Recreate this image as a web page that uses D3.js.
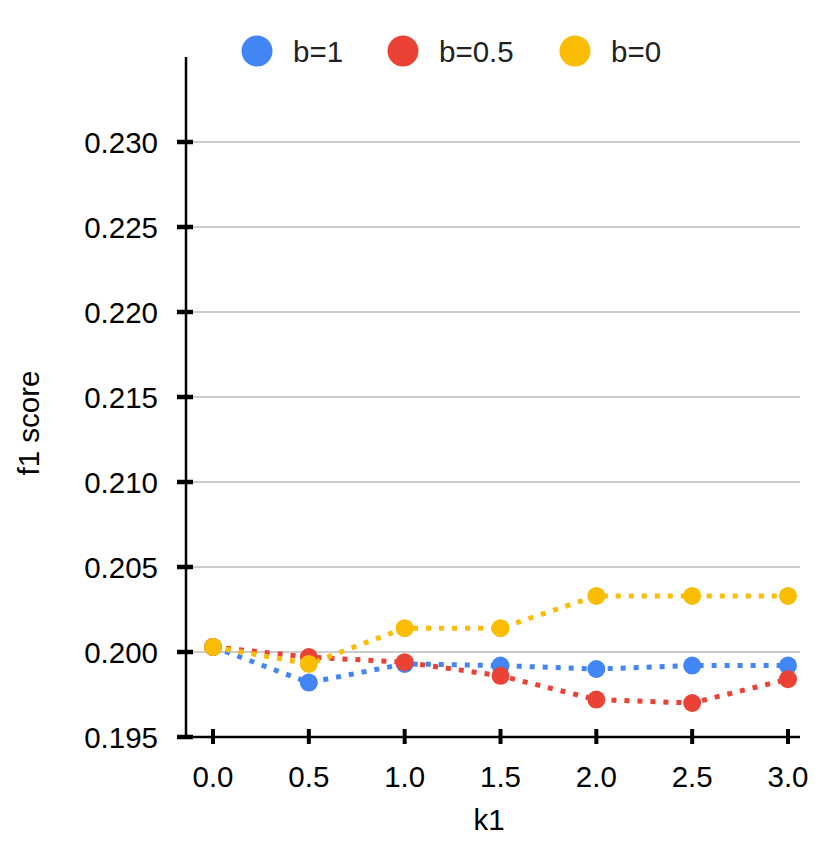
<!DOCTYPE html>
<html>
<head>
<meta charset="utf-8">
<script src="https://cdn.jsdelivr.net/npm/d3@7"></script>
<style>
  body { margin: 0; background: #fff; }
  text { font-family: "Liberation Sans", Arial, sans-serif; fill: #222; }
</style>
</head>
<body>
<svg id="chart" width="830" height="856"></svg>
<script>
// Data
const k1Values = [0.0, 0.5, 1.0, 1.5, 2.0, 2.5, 3.0];
const seriesNames = ["b=1", "b=0.5", "b=0"];
const seriesColors = ["#4285F4", "#EA4335", "#FBBC04"];
const b1 = [0.2003, 0.1982, 0.1993, 0.1992, 0.1990, 0.1992, 0.1992];
const b05 = [0.2003, 0.1997, 0.1994, 0.1986, 0.1972, 0.1970, 0.1984];
const b0 = [0.2003, 0.1993, 0.2014, 0.2014, 0.2033, 0.2033, 0.2033];
const yTicks = [0.195, 0.200, 0.205, 0.210, 0.215, 0.220, 0.225, 0.230];
const xTicks = [0.0, 0.5, 1.0, 1.5, 2.0, 2.5, 3.0];

const seriesValues = [b1, b05, b0];

const svg = d3.select("#chart");
const fontSize = 29.5;

// plot area
const plotLeft = 186, plotRight = 800, plotTop = 57, plotBottom = 737;

const x = d3.scaleLinear()
    .domain([0, 3])
    .range([213, 788]);

const y = d3.scaleLinear()
    .domain([0.195, 0.230])
    .range([plotBottom, 142]);

// gridlines (not at baseline)
svg.append("g")
    .selectAll("line")
    .data(yTicks.filter(t => t > 0.195))
    .enter().append("line")
    .attr("x1", plotLeft)
    .attr("x2", plotRight)
    .attr("y1", d => y(d))
    .attr("y2", d => y(d))
    .attr("stroke", "#cccccc")
    .attr("stroke-width", 2);

// y axis line + ticks
svg.append("line")
    .attr("x1", plotLeft).attr("x2", plotLeft)
    .attr("y1", plotTop).attr("y2", plotBottom)
    .attr("stroke", "#000").attr("stroke-width", 2.5);

svg.append("g")
    .selectAll("line")
    .data(yTicks)
    .enter().append("line")
    .attr("x1", plotLeft - 9)
    .attr("x2", plotLeft + 7)
    .attr("y1", d => y(d))
    .attr("y2", d => y(d))
    .attr("stroke", "#000")
    .attr("stroke-width", 4.5);

svg.append("g")
    .selectAll("text")
    .data(yTicks)
    .enter().append("text")
    .attr("x", 158)
    .attr("y", d => y(d))
    .attr("dy", "0.36em")
    .attr("text-anchor", "end")
    .style("font-size", fontSize + "px")
    .style("fill", "#000")
    .text(d => d3.format(".3f")(d));

// x axis line + ticks
svg.append("line")
    .attr("x1", plotLeft - 9).attr("x2", plotRight)
    .attr("y1", plotBottom).attr("y2", plotBottom)
    .attr("stroke", "#000").attr("stroke-width", 2.5);

svg.append("g")
    .selectAll("line")
    .data(xTicks)
    .enter().append("line")
    .attr("x1", d => x(d))
    .attr("x2", d => x(d))
    .attr("y1", plotBottom - 8)
    .attr("y2", plotBottom + 7)
    .attr("stroke", "#000")
    .attr("stroke-width", 4);

svg.append("g")
    .selectAll("text")
    .data(xTicks)
    .enter().append("text")
    .attr("x", d => x(d))
    .attr("y", 787)
    .attr("text-anchor", "middle")
    .style("font-size", fontSize + "px")
    .style("fill", "#000")
    .text(d => d3.format(".1f")(d));

// axis titles
svg.append("text")
    .attr("x", 489)
    .attr("y", 830)
    .attr("text-anchor", "middle")
    .style("font-size", fontSize + "px")
    .style("fill", "#000")
    .text("k1");

svg.append("text")
    .attr("transform", "translate(39,423) rotate(-90)")
    .attr("text-anchor", "middle")
    .style("font-size", fontSize + "px")
    .style("fill", "#000")
    .text("f1 score");

// series lines
const line = d3.line()
    .x((d, i) => x(k1Values[i]))
    .y(d => y(d));

seriesValues.forEach((vals, si) => {
    svg.append("path")
        .datum(vals)
        .attr("d", line)
        .attr("fill", "none")
        .attr("stroke", seriesColors[si])
        .attr("stroke-width", 5)
        .attr("stroke-dasharray", "5,8");
});

seriesValues.forEach((vals, si) => {
    svg.append("g")
        .selectAll("circle")
        .data(vals)
        .enter().append("circle")
        .attr("cx", (d, i) => x(k1Values[i]))
        .attr("cy", d => y(d))
        .attr("r", 9)
        .attr("fill", seriesColors[si]);
});

// legend
const legendX = [257, 403, 575];
const legend = svg.append("g")
    .selectAll("g")
    .data(seriesNames)
    .enter().append("g")
    .attr("transform", (d, i) => `translate(${legendX[i]}, 51)`);

legend.append("circle")
    .attr("r", 15.5)
    .attr("fill", (d, i) => seriesColors[i]);

legend.append("text")
    .attr("x", 36)
    .attr("y", 10.5)
    .style("font-size", fontSize + "px")
    .text(d => d);
</script>
</body>
</html>
